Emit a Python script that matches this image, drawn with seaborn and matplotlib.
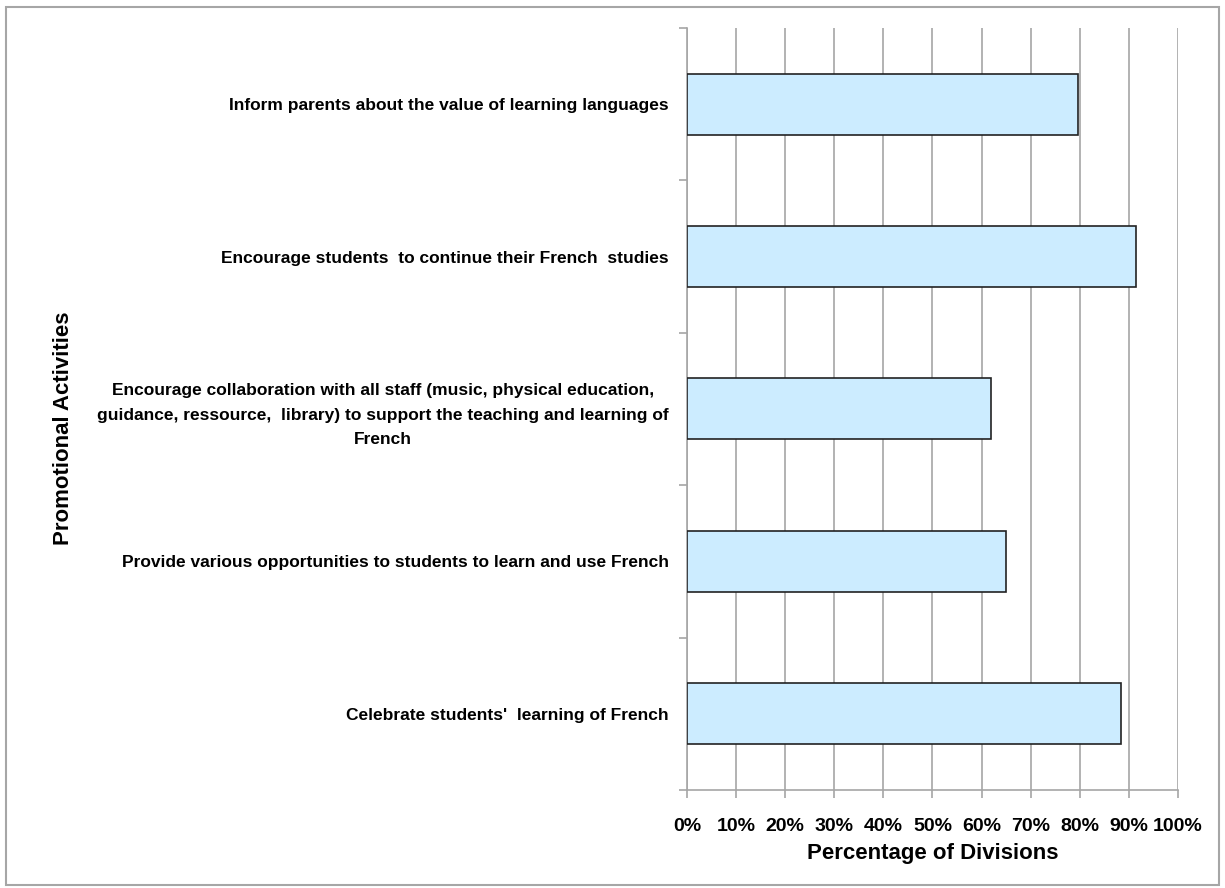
import seaborn as sns
import matplotlib.pyplot as plt
import matplotlib.patches as mpatches
from matplotlib.ticker import FixedLocator, PercentFormatter
from matplotlib import font_manager
import pandas as pd

# Data
activities = [
    "Inform parents about the value of learning languages",
    "Encourage students  to continue their French  studies",
    "Encourage collaboration with all staff (music, physical education,\n"
    "guidance, ressource,  library) to support the teaching and learning of\n"
    "French",
    "Provide various opportunities to students to learn and use French",
    "Celebrate students'  learning of French",
]
percentages = [79.6, 91.4, 61.9, 65.0, 88.4]

df = pd.DataFrame({"Activity": activities, "Percent": percentages})

sns.set_style("white")
names = {f.name for f in font_manager.fontManager.ttflist}
font = "Liberation Sans Narrow" if "Liberation Sans Narrow" in names else "Liberation Sans"
plt.rcParams["font.family"] = [font, "DejaVu Sans"]
plt.rcParams["text.color"] = "black"
plt.rcParams["axes.labelcolor"] = "black"
plt.rcParams["xtick.color"] = "black"
plt.rcParams["ytick.color"] = "black"

fig = plt.figure(figsize=(12.25, 8.88), dpi=100)
ax = fig.add_axes([0.5608, 0.1104, 0.4008, 0.8581])

sns.barplot(data=df, x="Percent", y="Activity", orient="h", color="#CCECFF",
            saturation=1, edgecolor="#222222", linewidth=1.2, width=0.4,
            zorder=3, ax=ax)

ax.set_xlim(0, 100)
ax.set_ylim(len(activities) - 0.5, -0.5)
ax.set_xticks(range(0, 101, 10))
ax.xaxis.set_major_formatter(PercentFormatter(decimals=0))
ax.grid(axis="x", color="#A6A6A6", linewidth=1.2, zorder=0)

# y ticks sit between categories
ax.yaxis.set_minor_locator(FixedLocator([i - 0.5 for i in range(len(activities) + 1)]))
ax.tick_params(axis="y", which="major", left=True, length=0, pad=13)
ax.tick_params(axis="y", which="minor", left=True, length=6, color="#A6A6A6", width=1.2)
ax.tick_params(axis="x", bottom=True, length=6, color="#A6A6A6", width=1.2, pad=14)

for lab in ax.get_yticklabels():
    lab.set_fontsize(12.5)
    lab.set_fontweight("bold")
    lab.set_multialignment("center")
    lab.set_linespacing(1.8)
for lab in ax.get_xticklabels():
    lab.set_fontsize(14)
    lab.set_fontweight("bold")

for side in ["top", "right"]:
    ax.spines[side].set_visible(False)
for side in ["left", "bottom"]:
    ax.spines[side].set_color("#A6A6A6")
    ax.spines[side].set_linewidth(1.2)

ax.set_xlabel("Percentage of Divisions", fontsize=16, fontweight="bold", labelpad=6)
ax.set_ylabel("")
fig.text(0.052, 0.518, "Promotional Activities", rotation=90, fontsize=16,
         fontweight="bold", ha="center", va="center")

# Outer chart frame
fig.patches.append(mpatches.Rectangle((0.005, 0.003), 0.99, 0.989, transform=fig.transFigure,
                                      fill=False, edgecolor="#A6A6A6", linewidth=1.5))

fig.savefig("out.png", dpi=100)
plt.close(fig)
